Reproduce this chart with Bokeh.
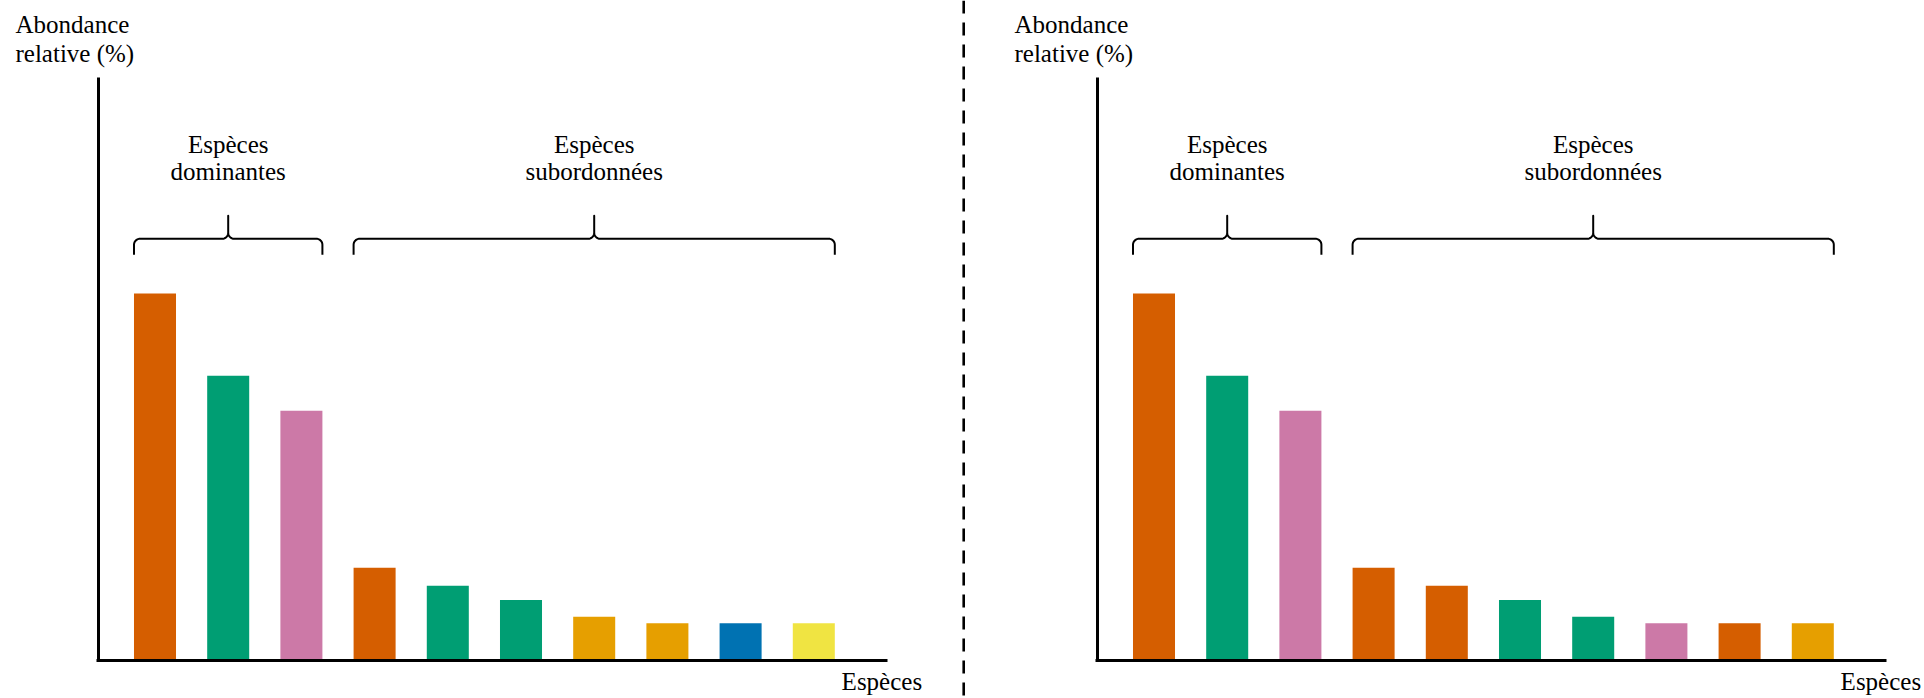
import numpy as np
from bokeh.plotting import figure
from bokeh.models import Range1d, LinearAxis, FixedTicker, Span
from bokeh.layouts import row
from bokeh.core.properties import value
from bokeh.embed import file_html
from bokeh.resources import INLINE

# ---------------- data ----------------
ranks = [1, 2, 3, 4, 5, 6, 7, 8, 9, 10]
abundance_left = [28.5, 22.1, 19.4, 7.2, 5.8, 4.7, 3.4, 2.9, 2.9, 2.9]
abundance_right = [28.5, 22.1, 19.4, 7.2, 5.8, 4.7, 3.4, 2.9, 2.9, 2.9]
colors_left = ["#D55E00", "#009E73", "#CC79A7", "#D55E00", "#009E73",
               "#009E73", "#E69F00", "#E69F00", "#0072B2", "#F0E442"]
colors_right = ["#D55E00", "#009E73", "#CC79A7", "#D55E00", "#D55E00",
                "#009E73", "#009E73", "#CC79A7", "#D55E00", "#E69F00"]
group_names = [["Espèces", "dominantes"], ["Espèces", "subordonnées"]]
group_first = [1, 4]
group_last = [3, 10]
y_title = ["Abondance", "relative (%)"]
x_title = "Espèces"

# ---------------- style / layout ----------------
PX_X = 73.2      # px per rank step
PX_Y = 12.88     # px per percent
BAR_W = 0.574
FONT = value("Liberation Serif")
FS = "25px"
H = 698
BASE_PX = 660    # baseline position from top of figure
AXIS_X0 = 0.228
AXIS_X1 = 11.0
AXIS_YTOP = 45.3
TEXT_DY = 9 / PX_Y   # upward correction for text placement


def brace_path(x0, x1, ybase):
    """Curly brace from x0 to x1 (data), ends at ybase; shape in pixels."""
    r, hz, tip = 6.0, 16.0, 39.0
    xc = (x0 + x1) / 2.0
    rx, ry = r / PX_X, r / PX_Y
    hy = hz / PX_Y
    xs, ys = [], []

    def arc(cx, cy, a0, a1):
        t = np.radians(np.linspace(a0, a1, 10))
        xs.extend(cx + rx * np.cos(t))
        ys.extend(cy + ry * np.sin(t))

    xs.append(x0); ys.append(ybase)
    arc(x0 + rx, ybase + hy - ry, 180, 90)
    arc(xc - rx, ybase + hy + ry, 270, 360)
    xs.append(xc); ys.append(ybase + tip / PX_Y)
    xs.append(xc); ys.append(ybase + hy + ry)
    arc(xc + rx, ybase + hy + ry, 180, 270)
    arc(x1 - rx, ybase + hy - ry, 90, 0)
    xs.append(x1); ys.append(ybase)
    return xs, ys


def make_panel(width, bar1_px, values, colors, separator=False):
    x_start = 1 - bar1_px / PX_X
    x_end = x_start + width / PX_X
    y_end = BASE_PX / PX_Y
    y_start = y_end - H / PX_Y
    p = figure(width=width, height=H,
               x_range=Range1d(x_start, x_end), y_range=Range1d(y_start, y_end),
               x_axis_type=None, y_axis_type=None,
               toolbar_location=None, output_backend="svg", min_border=0)
    p.outline_line_color = None
    p.background_fill_color = "white"
    p.border_fill_color = "white"

    p.vbar(x=ranks, top=values, width=BAR_W, fill_color=colors, line_color=None)

    for loc, dim in (("left", "y"), ("below", "x")):
        ax = LinearAxis(ticker=FixedTicker(ticks=[]))
        ax.axis_line_width = 3
        ax.axis_line_color = "black"
        ax.major_tick_line_color = None
        ax.minor_tick_line_color = None
        ax.major_label_text_color = None
        if dim == "y":
            ax.fixed_location = AXIS_X0
            ax.bounds = (0, AXIS_YTOP)
        else:
            ax.fixed_location = 0
            ax.bounds = (AXIS_X0 - 1.5 / PX_X, AXIS_X1)
        p.add_layout(ax, loc)

    # braces and group labels
    for names, g0, g1 in zip(group_names, group_first, group_last):
        bx0 = g0 - BAR_W / 2
        bx1 = g1 + BAR_W / 2
        xs, ys = brace_path(bx0, bx1, 31.5)
        p.line(xs, ys, line_width=2, line_color="black", line_join="round")
        xc = (bx0 + bx1) / 2
        p.text(x=[xc, xc], y=[39.4 + TEXT_DY, 37.25 + TEXT_DY], text=names,
               text_font=FONT, text_font_size=FS, text_color="black",
               text_align="center", text_baseline="alphabetic")

    # y title (top-left)
    p.text(x=[-0.906, -0.906], y=[48.7 + TEXT_DY, 46.45 + TEXT_DY], text=y_title,
           text_font=FONT, text_font_size=FS, text_color="black",
           text_align="left", text_baseline="alphabetic")
    # x title (bottom-right)
    xt = min(11.48, x_end - 2 / PX_X)
    p.text(x=[xt], y=[-2.3 + TEXT_DY], text=[x_title], text_font=FONT,
           text_font_size=FS, text_color="black", text_align="right",
           text_baseline="alphabetic")

    if separator:
        p.add_layout(Span(location=x_end - 1.6 / PX_X, dimension="height",
                          line_color="black", line_width=3, line_dash="13 9"))
    return p


p1 = make_panel(965, 154.5, abundance_left, colors_left, separator=True)
p2 = make_panel(959, 188.5, abundance_right, colors_right)
layout = row(p1, p2)

open("out.html", "w").write(file_html(layout, INLINE))
